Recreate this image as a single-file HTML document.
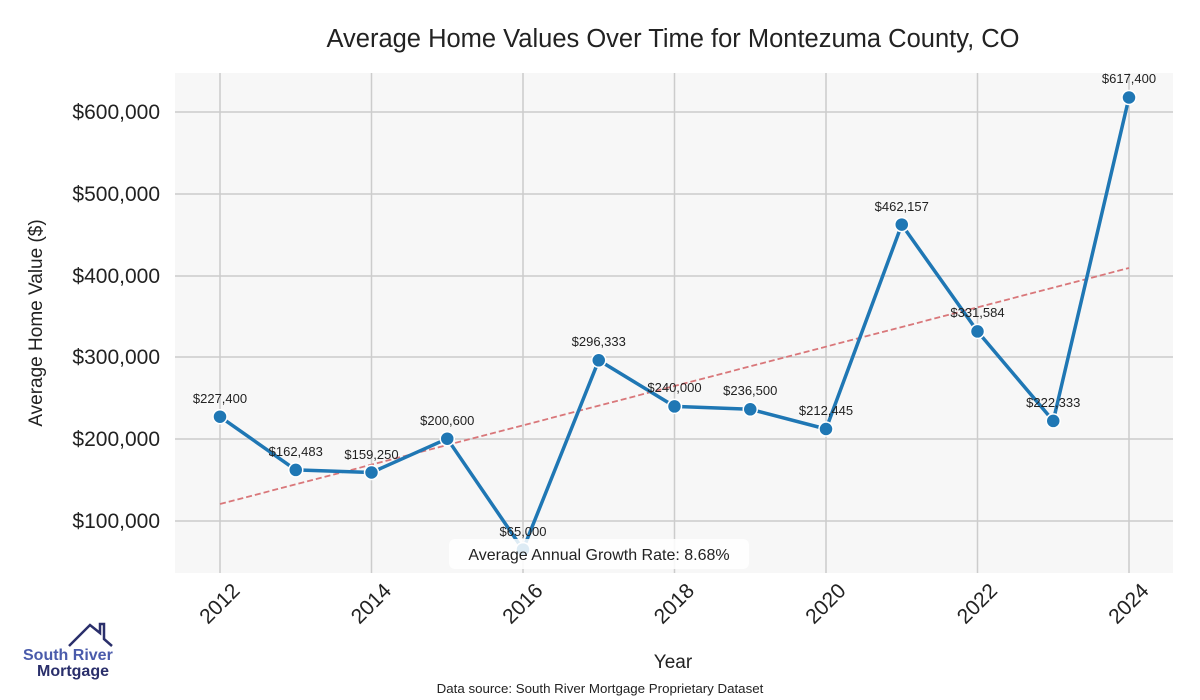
<!DOCTYPE html><html><head><style>body{margin:0;background:#fff}svg{display:block;font-family:"Liberation Sans",sans-serif}</style></head><body>
<svg width="1200" height="700" viewBox="0 0 1200 700">
<text x="673" y="47" text-anchor="middle" font-size="25.5" fill="#222">Average Home Values Over Time for Montezuma County, CO</text>
<rect x="175" y="73" width="998" height="500" fill="#f7f7f7"/>
<g stroke="#cccccc" stroke-width="1.5">
<line x1="220" y1="73" x2="220" y2="573"/><line x1="371.5" y1="73" x2="371.5" y2="573"/><line x1="523" y1="73" x2="523" y2="573"/><line x1="674.5" y1="73" x2="674.5" y2="573"/><line x1="826" y1="73" x2="826" y2="573"/><line x1="977.5" y1="73" x2="977.5" y2="573"/><line x1="1129" y1="73" x2="1129" y2="573"/>
<line x1="175" y1="112" x2="1173" y2="112"/><line x1="175" y1="194" x2="1173" y2="194"/><line x1="175" y1="276" x2="1173" y2="276"/><line x1="175" y1="357" x2="1173" y2="357"/><line x1="175" y1="439" x2="1173" y2="439"/><line x1="175" y1="521" x2="1173" y2="521"/>
</g>
<g font-size="21" fill="#222" text-anchor="end">
<text x="160" y="119">$600,000</text><text x="160" y="201">$500,000</text><text x="160" y="283">$400,000</text><text x="160" y="364">$300,000</text><text x="160" y="446">$200,000</text><text x="160" y="528">$100,000</text>
</g>
<text transform="translate(42,323) rotate(-90)" text-anchor="middle" font-size="19" fill="#222">Average Home Value ($)</text>
<g font-size="21" fill="#222" text-anchor="end">
<text transform="translate(241,592) rotate(-45)">2012</text><text transform="translate(392.5,592) rotate(-45)">2014</text><text transform="translate(544,592) rotate(-45)">2016</text><text transform="translate(695.5,592) rotate(-45)">2018</text><text transform="translate(847,592) rotate(-45)">2020</text><text transform="translate(998.5,592) rotate(-45)">2022</text><text transform="translate(1150,592) rotate(-45)">2024</text>
</g>
<text x="673" y="668" text-anchor="middle" font-size="19" fill="#222">Year</text>
<text x="600" y="693" text-anchor="middle" font-size="13.3" fill="#222">Data source: South River Mortgage Proprietary Dataset</text>
<line x1="220" y1="504" x2="1129" y2="268" stroke="#d9777a" stroke-width="1.8" stroke-dasharray="6,3"/>
<polyline fill="none" stroke="#1f77b4" stroke-width="3.5" stroke-linejoin="round" points="220,416.7 295.75,469.9 371.5,472.5 447.25,438.7 523,549.6 598.75,360.3 674.5,406.4 750.25,409.3 826,429 901.75,224.6 977.5,331.4 1053.25,420.9 1129,97.5"/>
<g fill="#1f77b4" stroke="#fff" stroke-width="1.5">
<circle cx="220" cy="416.7" r="7"/><circle cx="295.75" cy="469.9" r="7"/><circle cx="371.5" cy="472.5" r="7"/><circle cx="447.25" cy="438.7" r="7"/><circle cx="523" cy="549.6" r="7"/><circle cx="598.75" cy="360.3" r="7"/><circle cx="674.5" cy="406.4" r="7"/><circle cx="750.25" cy="409.3" r="7"/><circle cx="826" cy="429" r="7"/><circle cx="901.75" cy="224.6" r="7"/><circle cx="977.5" cy="331.4" r="7"/><circle cx="1053.25" cy="420.9" r="7"/><circle cx="1129" cy="97.5" r="7"/>
</g>
<g font-size="13" fill="#222" text-anchor="middle">
<text x="220" y="403">$227,400</text><text x="295.75" y="456">$162,483</text><text x="371.5" y="459">$159,250</text><text x="447.25" y="425">$200,600</text><text x="523" y="536">$65,000</text><text x="598.75" y="346">$296,333</text><text x="674.5" y="392">$240,000</text><text x="750.25" y="395">$236,500</text><text x="826" y="415">$212,445</text><text x="901.75" y="211">$462,157</text><text x="977.5" y="317">$331,584</text><text x="1053.25" y="407">$222,333</text><text x="1129" y="83">$617,400</text>
</g>
<rect x="449" y="539" width="300" height="30" rx="6" fill="#fff" opacity="0.85"/>
<text x="599" y="560" text-anchor="middle" font-size="16" fill="#222">Average Annual Growth Rate: 8.68%</text>
<polyline points="69,646 90,625 100,633 100,624 104,624 104,639 112,646" fill="none" stroke="#2a2f6b" stroke-width="2.5"/>
<text x="23" y="660" font-size="16" font-weight="bold" fill="#4a5bab">South River</text>
<text x="37" y="676" font-size="16" font-weight="bold" fill="#2a2f6b">Mortgage</text>
</svg></body></html>
